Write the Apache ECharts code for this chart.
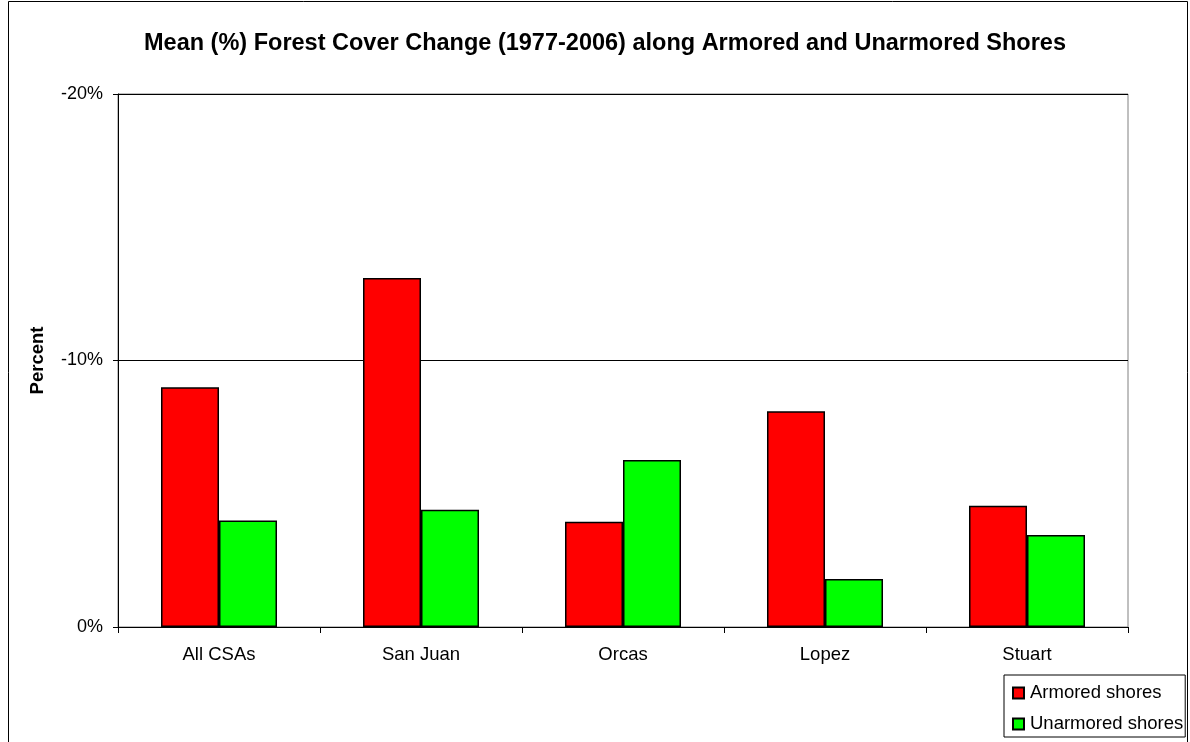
<!DOCTYPE html>
<html>
<head>
<meta charset="utf-8">
<title>Mean (%) Forest Cover Change</title>
<script src="https://cdn.jsdelivr.net/npm/echarts@6/dist/echarts.min.js"></script>
<style>
  html, body { margin: 0; padding: 0; background: #fff; }
  #chart { width: 1190px; height: 742px; }
</style>
</head>
<body>
<div id="chart"></div>
<script>
var categories = ['All CSAs', 'San Juan', 'Orcas', 'Lopez', 'Stuart']
var armored = [-9.0, -13.1, -3.95, -8.1, -4.55]
var unarmored = [-4.0, -4.4, -6.27, -1.8, -3.45]
var seriesNames = ['Armored shores', 'Unarmored shores']

var chart = echarts.init(document.getElementById('chart'))
var font = 'Liberation Sans, Arial, sans-serif'

chart.setOption({
  animation: false,
  backgroundColor: '#fff',
  textStyle: { fontFamily: font },
  title: {
    text: 'Mean (%) Forest Cover Change (1977-2006) along Armored and Unarmored Shores',
    left: 600,
    top: 27,
    textAlign: 'center',
    textStyle: { fontSize: 23.5, fontWeight: 'bold', color: '#000', fontFamily: font }
  },
  // outer chart frame
  graphic: [{
    type: 'rect',
    shape: { x: 8.5, y: 1.5, width: 1179, height: 760 },
    style: { fill: 'none', stroke: '#000', lineWidth: 1 },
    silent: true
  }],
  legend: {
    orient: 'vertical',
    left: 1004,
    top: 675,
    data: seriesNames,
    icon: 'rect',
    itemWidth: 11,
    itemHeight: 11,
    itemGap: 11,
    padding: [8, 2, 3, 8],
    borderColor: '#000',
    borderWidth: 1,
    textStyle: { fontSize: 18.5, lineHeight: 20, color: '#000', fontFamily: font, padding: [0, 0, 0, 1] }
  },
  grid: {
    left: 118,
    right: 62,
    top: 94,
    bottom: 115,
    show: true,
    borderColor: '#808080',
    borderWidth: 1
  },
  xAxis: {
    type: 'category',
    data: categories,
    axisLine: { lineStyle: { color: '#000' } },
    axisTick: { show: true, length: 6, lineStyle: { color: '#000' } },
    axisLabel: { fontSize: 18.5, color: '#000', margin: 18, fontFamily: font }
  },
  yAxis: {
    type: 'value',
    inverse: true,
    min: -20,
    max: 0,
    interval: 10,
    name: 'Percent',
    nameLocation: 'middle',
    nameGap: 71,
    nameTextStyle: { fontSize: 18.5, fontWeight: 'bold', color: '#000', fontFamily: font },
    axisLine: { show: true, lineStyle: { color: '#000' } },
    axisTick: { show: true, inside: false, length: 5, lineStyle: { color: '#000' } },
    axisLabel: {
      fontSize: 18,
      color: '#000',
      margin: 15,
      fontFamily: font,
      formatter: function (v) { return v + '%' }
    },
    splitLine: { show: true, lineStyle: { color: '#000', width: 1 } }
  },
  series: [{
    name: seriesNames[0],
    type: 'bar',
    data: armored,
    barWidth: 58,
    barGap: '0%',
    itemStyle: { color: '#ff0000', borderColor: '#000', borderWidth: 1.5 }
  }, {
    name: seriesNames[1],
    type: 'bar',
    data: unarmored,
    barWidth: 58,
    barGap: '0%',
    itemStyle: { color: '#00ff00', borderColor: '#000', borderWidth: 1.5 }
  }]
})
</script>
</body>
</html>
